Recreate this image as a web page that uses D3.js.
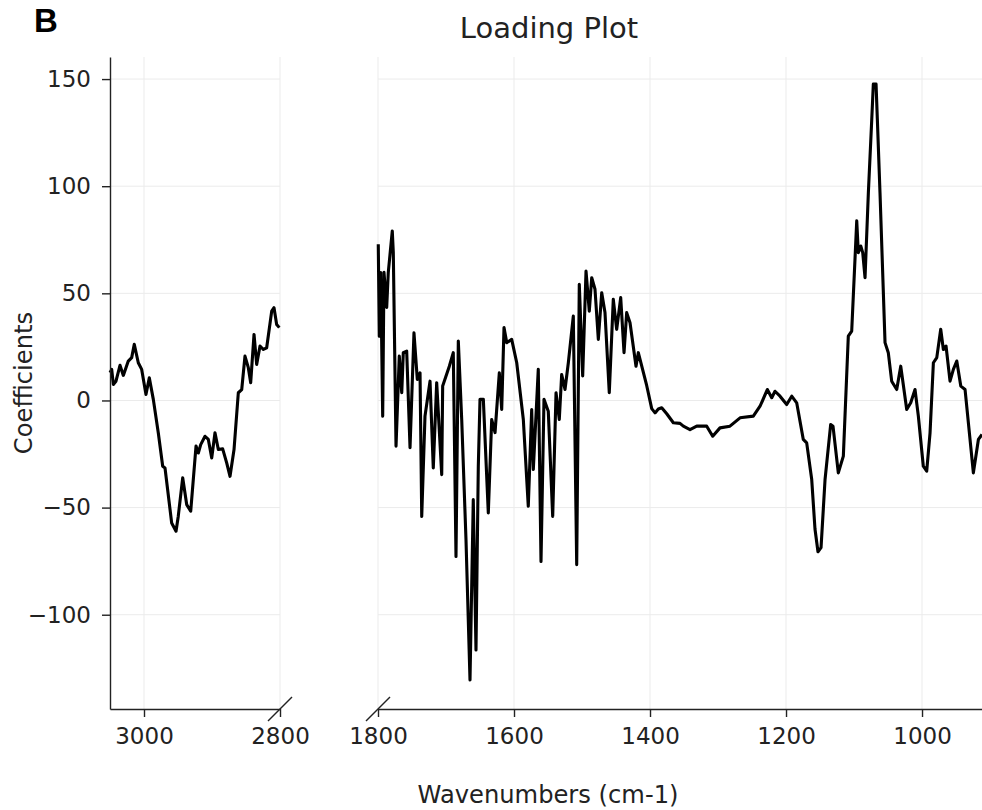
<!DOCTYPE html>
<html>
<head>
<meta charset="utf-8">
<script src="https://cdn.jsdelivr.net/npm/d3@7"></script>
<style>
  body { margin: 0; background: #fff; }
  svg text { font-family: "DejaVu Sans", sans-serif; fill: #222; }
  .grid line { stroke: #ebebeb; stroke-width: 1; }
  .axis path, .axis line { stroke: #222; stroke-width: 1.4; }
  .axis text { font-size: 23px; }
</style>
</head>
<body>
<div id="chart"></div>
<script>
// High wavenumber region (C-H stretch)
const leftWn = [3050, 3047.5, 3045.1, 3041.2, 3035.3, 3030.4, 3023.1, 3018.1, 3014.3, 3008.4, 3003.4,
  2997.1, 2992.2, 2986.3, 2979.0, 2972.5, 2969.1, 2959.3, 2952.9, 2949.6, 2943.1, 2937.2, 2931.3,
  2923.5, 2920.1, 2916.6, 2910.3, 2905.4, 2900.4, 2895.6, 2890.7, 2884.3, 2878.4, 2873.5, 2867.6,
  2861.3, 2856.3, 2851.5, 2846.6, 2843.1, 2838.2, 2834.3, 2829.4, 2824.5, 2819.6, 2812.2, 2808.8,
  2804.9, 2801.0];
const leftCoef = [13, 14.5, 7.5, 9.0, 16.4, 11.7, 18.4, 20.0, 26.2, 17.6, 14.5,
  2.8, 10.6, 0.5, -15.1, -30.7, -31.5, -57.2, -61.0, -54.0, -36.1, -48.6, -51.7,
  -21.3, -24.5, -20.6, -16.7, -18.2, -26.8, -15.1, -22.9, -22.6, -29.1, -35.4, -22.9,
  3.6, 5.1, 20.7, 15.3, 8.3, 30.8, 16.8, 25.4, 23.8, 24.6, 41.7, 43.3,
  35.5, 34.0];

// Fingerprint region
const rightWn = [1799.6, 1798.1, 1796.0, 1793.1, 1791.2, 1787.2, 1784.9, 1779.0, 1777.5, 1773.5,
  1768.7, 1765.1, 1762.8, 1757.8, 1752.9, 1747.1, 1742.2, 1738.2, 1735.7, 1730.9, 1723.5, 1718.7,
  1713.7, 1706.3, 1704.9, 1695.1, 1689.3, 1685.3, 1681.9, 1676.9, 1670.6, 1664.7, 1659.9, 1655.9,
  1652.5, 1650.0, 1645.1, 1637.8, 1632.8, 1627.9, 1621.6, 1618.1, 1614.7, 1610.7, 1603.4, 1596.0,
  1586.3, 1579.0, 1574.0, 1571.6, 1564.3, 1560.3, 1555.9, 1549.6, 1543.1, 1538.2, 1533.4, 1529.9,
  1525.0, 1520.1, 1512.8, 1507.8, 1504.0, 1499.0, 1494.1, 1489.3, 1485.7, 1480.9, 1476.0, 1471.0,
  1466.2, 1459.9, 1454.0, 1449.0, 1443.1, 1438.2, 1434.3, 1429.4, 1420.6, 1417.2, 1404.9, 1397.5,
  1392.6, 1387.8, 1382.8, 1375.4, 1365.7, 1355.9, 1351.0, 1341.2, 1331.3, 1316.6, 1307.8, 1297.1,
  1282.4, 1267.6, 1248.1, 1238.2, 1227.5, 1221.0, 1216.2, 1208.8, 1199.0, 1191.6, 1184.3, 1174.6,
  1169.6, 1162.2, 1157.4, 1153.0, 1148.5, 1142.6, 1134.3, 1130.9, 1123.1, 1115.7, 1108.4, 1103.4,
  1096.0, 1093.7, 1090.1, 1087.2, 1083.8, 1078.9, 1073.9, 1071.6, 1067.6, 1065.7, 1061.8, 1054.4,
  1049.6, 1044.6, 1037.2, 1031.3, 1022.5, 1016.6, 1010.3, 1005.4, 998.1, 993.1, 988.2, 983.3,
  978.3, 972.5, 968.6, 964.7, 958.8, 953.9, 948.9, 943.0, 936.7, 924.5, 917.1, 911.8];
const rightCoef = [72.9, 30, 59.7, -7.3, 59.8, 43.4, 59.7, 79.1, 69, -21.3,
  20.7, 3.6, 22.3, 23, -22.1, 31.6, 9.8, 12.9, -54.1, -7.3, 9, -31.5,
  8.3, -34.6, 6.7, 16, 22.3, -72.8, 27.7, -8.9, -65, -130.4, -46.3, -116.4,
  -30.7, 0.5, 0.5, -52.5, -8.9, -15, 12.9, -4.2, 34, 27, 28.5, 17.6,
  -8.9, -49.4, -4.2, -32.2, 14.5, -75.1, 0.5, -5, -54.1, 3.6, -8.9, 12.1,
  5.1, 17.6, 39.4, -76.6, 54.2, 11.4, 60.4, 41.7, 57.3, 51.9, 28.5, 50.3,
  41, 3.6, 47.2, 33.2, 48, 22.3, 41, 36.3, 16, 22.3, 7, -3.8,
  -5.8, -4, -3.4, -6.2, -10.4, -10.7, -12, -13.6, -12, -12, -16.7, -12.8,
  -12, -8.1, -7.3, -2.7, 5.1, 1.3, 4.3, 2, -1.9, 2, -1.1, -18.2,
  -19.8, -36.9, -60, -70.6, -68.7, -36.9, -11.2, -12, -33.8, -26, 30, 32.4,
  83.8, 69, 72.1, 69, 57.3, 97, 131.3, 147.7, 147.7, 131.3, 97, 27,
  22.3, 9, 5.1, 16, -4.2, -1.1, 5.1, -7.3, -30.7, -33, -15.1, 17.6,
  20, 33.2, 23.8, 25.4, 9, 14.5, 18.4, 6.7, 5.1, -33.8, -18.2, -15.9];

const yTicks = [-100, -50, 0, 50, 100, 150];
const leftTicks = [3000, 2800];
const rightTicks = [1800, 1600, 1400, 1200, 1000];

const W = 982, H = 810;
const plotTop = 57, plotBottom = 709;

const svg = d3.select("#chart").append("svg")
  .attr("width", W)
  .attr("height", H);

const y = d3.scaleLinear().domain([-144, 160.3]).range([plotBottom, plotTop]);
const xL = d3.scaleLinear().domain([3050, 2800]).range([110, 280]);
const xR = d3.scaleLinear().domain([1800, 911.8]).range([378, 982]);

const fmt = d => d < 0 ? "\u2212" + Math.abs(d) : String(d);

// gridlines for both panels
function grid(x, ticks) {
  const g = svg.append("g").attr("class", "grid");
  const [x0, x1] = x.range();
  g.selectAll(".v").data(ticks).join("line").attr("class", "v")
    .attr("x1", d => x(d)).attr("x2", d => x(d))
    .attr("y1", plotTop).attr("y2", plotBottom);
  g.selectAll(".h").data(yTicks).join("line").attr("class", "h")
    .attr("x1", x0).attr("x2", x1)
    .attr("y1", d => y(d)).attr("y2", d => y(d));
}
grid(xL, leftTicks);
grid(xR, rightTicks);

// lines
const line = x => d3.line().x(d => x(d[0])).y(d => y(d[1]));
svg.append("path")
  .datum(d3.zip(leftWn, leftCoef))
  .attr("fill", "none").attr("stroke", "#000").attr("stroke-width", 3.1)
  .attr("stroke-linejoin", "round")
  .attr("d", line(xL));
svg.append("path")
  .datum(d3.zip(rightWn, rightCoef))
  .attr("fill", "none").attr("stroke", "#000").attr("stroke-width", 3.1)
  .attr("stroke-linejoin", "round")
  .attr("d", line(xR));

// axes
svg.append("g").attr("class", "axis")
  .attr("transform", "translate(110,0)")
  .call(d3.axisLeft(y).tickValues(yTicks).tickFormat(fmt).tickSize(8).tickPadding(11).tickSizeOuter(0));

svg.append("g").attr("class", "axis")
  .attr("transform", `translate(0,${plotBottom})`)
  .call(d3.axisBottom(xL).tickValues(leftTicks).tickFormat(fmt).tickSize(8).tickPadding(11).tickSizeOuter(0));

svg.append("g").attr("class", "axis")
  .attr("transform", `translate(0,${plotBottom})`)
  .call(d3.axisBottom(xR).tickValues(rightTicks).tickFormat(fmt).tickSize(8).tickPadding(11).tickSizeOuter(0));

svg.selectAll(".axis .domain").attr("stroke", "#222").attr("stroke-width", 1.4);

// break marks
[xL(2800), xR(1800)].forEach(cx => {
  svg.append("line")
    .attr("x1", cx - 12).attr("y1", plotBottom + 12)
    .attr("x2", cx + 12).attr("y2", plotBottom - 12)
    .attr("stroke", "#222").attr("stroke-width", 1.4);
});

// labels
svg.append("text")
  .attr("x", 549).attr("y", 38)
  .attr("text-anchor", "middle")
  .style("font-size", "29px")
  .text("Loading Plot");

svg.append("text")
  .attr("x", 548).attr("y", 803)
  .attr("text-anchor", "middle")
  .style("font-size", "24.2px")
  .text("Wavenumbers (cm-1)");

svg.append("text")
  .attr("transform", "translate(32,383)rotate(-90)")
  .attr("text-anchor", "middle")
  .style("font-size", "24.2px")
  .text("Coefficients");

svg.append("text")
  .attr("x", 34).attr("y", 32)
  .style("font-family", "'Liberation Sans', sans-serif")
  .style("font-weight", "700")
  .style("font-size", "33px")
  .style("fill", "#000")
  .text("B");
</script>
</body>
</html>
